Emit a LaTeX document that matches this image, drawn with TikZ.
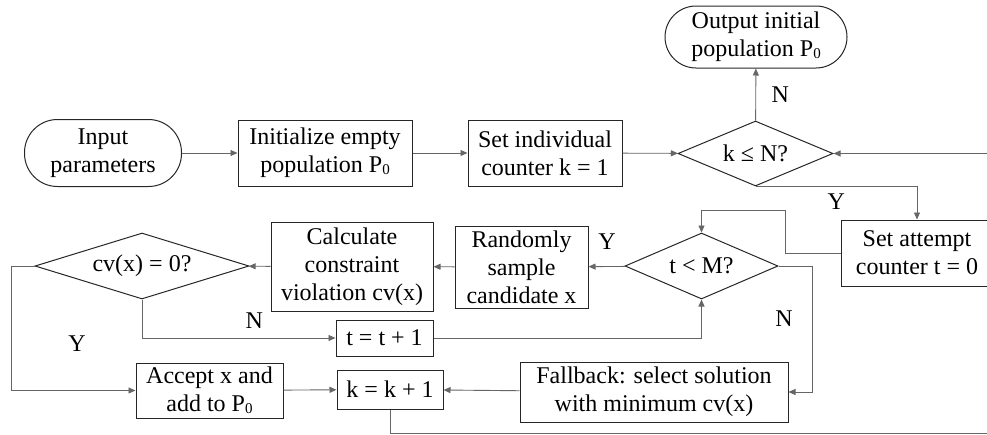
\documentclass[tikz,border=0pt]{standalone}
\usepackage{fontspec}
\setmainfont{Liberation Serif}
\usetikzlibrary{arrows.meta, shapes.geometric}

\newcommand{\Pzero}{P\raisebox{-2pt}{\fontsize{15}{15}\selectfont 0}}

\tikzset{
    box/.style={draw=black!85, line width=1pt, align=center, inner sep=0pt},
    decide/.style={box, diamond, aspect=3},
    conn/.style={draw=black!60, line width=0.9pt, -{Triangle[length=7pt, width=6pt]}},
}

\begin{document}
\begin{tikzpicture}[x=1pt, y=-1pt, font=\fontsize{24}{28}\selectfont]
    \useasboundingbox (0,0) rectangle (987,434);
    \clip (0,0) rectangle (987,434);

    % top row
    \node[box, rounded corners=33pt, minimum width=157pt, minimum height=67pt] (input) at (103,153) {Input\\parameters};
    \node[box, minimum width=174pt, minimum height=66pt] (init) at (325,153) {Initialize empty\\population \Pzero};
    \node[box, minimum width=154pt, minimum height=66pt] (setk) at (545,153) {Set individual\\counter k = 1};
    \node[decide, minimum width=155pt, minimum height=65pt] (kdiam) at (755.5,153.5) {k ≤ N?};
    \node[box, rounded corners=31pt, minimum width=182pt, minimum height=62pt] (output) at (756,37) {Output initial\\population \Pzero};

    % middle row
    \node[box, minimum width=152pt, minimum height=66pt] (sett) at (917,253) {Set attempt\\counter t = 0};
    \node[decide, minimum width=153pt, minimum height=66pt] (tdiam) at (701.5,266) {t < M?};
    \node[box, minimum width=133pt, minimum height=82pt] (sample) at (521.5,267) {Randomly\\sample\\candidate x};
    \node[box, minimum width=162pt, minimum height=89pt] (calc) at (352,266.5) {Calculate\\constraint\\violation cv(x)};
    \node[decide, minimum width=214pt, minimum height=66pt] (cvdiam) at (142,266) {cv(x) = 0?};
    \node[box, minimum width=97pt, minimum height=36pt] (tinc) at (384.5,338) {t = t + 1};

    % bottom row
    \node[box, minimum width=268pt, minimum height=60pt] (fallback) at (654,392) {Fallback: select solution\\with minimum cv(x)};
    \node[box, minimum width=106pt, minimum height=39pt] (kinc) at (390,389.5) {k = k + 1};
    \node[box, minimum width=147pt, minimum height=55pt] (accept) at (209.5,390.5) {Accept x and\\add to \Pzero};

    \draw[conn] (input) -- (init);
    \draw[conn] (init) -- (setk);
    \draw[conn] (setk) -- (kdiam);
    \draw[conn] (kdiam) -- node[right=12pt] {N} (output);
    \draw[conn] (kdiam.south) -| node[pos=0.25, below=3pt] {Y} (sett.north);
    \draw[conn] (sett.west) -| (785,210) -| (tdiam.north);
    \draw[conn] (tdiam) -- node[above=13pt] {Y} (sample);
    \draw[conn] (sample) -- (calc);
    \draw[conn] (calc) -- (cvdiam);
    \draw[conn] (cvdiam.south) |- node[pos=0.79, above=6pt] {N} (tinc.west);
    \draw[conn] (tinc.east) -| (tdiam.south);
    \draw[conn] (tdiam.east) -- ++(34,0) |- node[pos=0.21, left=16pt] {N} (fallback.east);
    \draw[conn] (fallback) -- (kinc);
    \draw[conn] (cvdiam.west) -- ++(-23,0) |- (accept.west);
    \node (ylab) at (77,344) {Y};
    \draw[conn] (accept) -- (kinc);
    \draw[conn] (kinc.south) |- (995,433) |- (kdiam.east);
\end{tikzpicture}
\end{document}
